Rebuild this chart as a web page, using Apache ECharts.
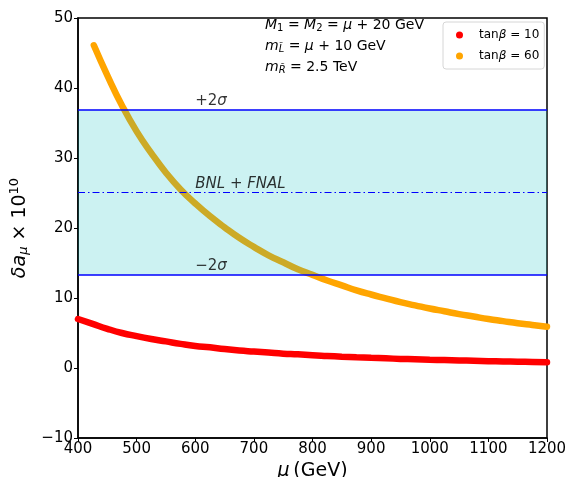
<!DOCTYPE html>
<html>
<head>
<meta charset="utf-8">
<script src="https://cdn.jsdelivr.net/npm/echarts@6/dist/echarts.min.js"></script>
<style>html,body{margin:0;padding:0;background:#fff}#c{width:566px;height:477px}</style>
</head>
<body>
<div id="c"></div>
<script>
// ---- data ----
const muOrange = [427, 450, 475, 500, 525, 550, 575, 600, 625, 650, 675, 700, 725, 750, 775, 800, 825, 850, 875, 900, 925, 950, 975, 1000, 1025, 1050, 1075, 1100, 1125, 1150, 1175, 1200];
const valOrange = [46.1, 41.8, 37.5, 33.8, 30.7, 27.9, 25.5, 23.5, 21.7, 20.1, 18.6, 17.3, 16.1, 15.1, 14.1, 13.3, 12.5, 11.8, 11.1, 10.5, 9.95, 9.4, 8.95, 8.5, 8.1, 7.7, 7.35, 7.0, 6.7, 6.4, 6.15, 5.9];
const muRed = [400, 425, 450, 475, 500, 525, 550, 575, 600, 625, 650, 675, 700, 725, 750, 775, 800, 825, 850, 875, 900, 925, 950, 975, 1000, 1025, 1050, 1075, 1100, 1125, 1150, 1175, 1200];
const valRed = [7.0, 6.3, 5.6, 5.0, 4.55, 4.15, 3.8, 3.45, 3.15, 2.95, 2.7, 2.5, 2.35, 2.2, 2.05, 1.95, 1.82, 1.72, 1.62, 1.53, 1.45, 1.38, 1.3, 1.24, 1.18, 1.13, 1.08, 1.03, 0.98, 0.94, 0.9, 0.86, 0.83];
const seriesNames = ['tanβ = 10', 'tanβ = 60'];
const bandCenter = 25.1;
const bandLow = 13.3;
const bandHigh = 36.9;
const bandLabelX = 600;
const bandLabels = ['+2σ', 'BNL + FNAL', '−2σ'];
const bandLabelY = [bandHigh, bandCenter, bandLow];
const xRange = [400, 1200];
const yRange = [-10, 50];

const FONT = 'DejaVu Sans';
const zip = (a, b) => a.map((v, i) => [v, b[i]]);

const chart = echarts.init(document.getElementById('c'), null, {renderer: 'canvas'});
chart.setOption({
  animation: false,
  textStyle: {fontFamily: FONT},
  grid: {left: 78, right: 19, top: 18, bottom: 39, show: true, borderColor: '#000', borderWidth: 1.5,
         backgroundColor: 'transparent', containLabel: false, outerBoundsMode: 'none'},
  legend: {
    left: 443, top: 22, orient: 'vertical',
    padding: [7, 5, 7, 13], itemGap: 9,
    borderColor: '#d6d6d6', borderWidth: 1, borderRadius: 3,
    itemWidth: 7, itemHeight: 7, icon: 'circle',
    data: seriesNames,
    formatter: n => '{a|tan}{b|β}{a|' + n.slice(4) + '}',
    textStyle: {
      padding: [0, 0, 0, 11],
      rich: {
        a: {fontFamily: FONT, fontSize: 12, color: '#000'},
        b: {fontFamily: FONT, fontSize: 12, fontStyle: 'italic', color: '#000'}
      }
    }
  },
  xAxis: {
    type: 'value', min: xRange[0], max: xRange[1], interval: 100,
    name: '{i|μ} {n|(GeV)}', nameLocation: 'middle', nameGap: 22,
    nameTextStyle: {rich: {
      i: {fontFamily: FONT, fontSize: 19, fontStyle: 'italic', color: '#000'},
      n: {fontFamily: FONT, fontSize: 19, color: '#000'}
    }},
    axisLine: {show: true, onZero: false, lineStyle: {color: '#000', width: 1.5}},
    axisTick: {show: true, length: 4, lineStyle: {color: '#000', width: 1}},
    axisLabel: {color: '#000', fontSize: 15, fontFamily: FONT, margin: 4, formatter: v => String(v)},
    splitLine: {show: false}
  },
  yAxis: {
    type: 'value', min: yRange[0], max: yRange[1], interval: 10,
    name: '{i|δa}{sub|μ}{n| × 10}{sup|10}', nameLocation: 'middle', nameGap: 41, nameRotate: 90,
    nameTextStyle: {rich: {
      i: {fontFamily: FONT, fontSize: 19, fontStyle: 'italic', color: '#000'},
      sub: {fontFamily: FONT, fontSize: 13, fontStyle: 'italic', color: '#000', padding: [8, 0, 0, 0]},
      n: {fontFamily: FONT, fontSize: 19, color: '#000'},
      sup: {fontFamily: FONT, fontSize: 13, color: '#000', padding: [0, 0, 10, 0]}
    }},
    axisLine: {show: true, onZero: false, lineStyle: {color: '#000', width: 1.5}},
    axisTick: {show: true, length: 4, lineStyle: {color: '#000', width: 1}},
    axisLabel: {color: '#000', fontSize: 15, fontFamily: FONT, margin: 5, formatter: v => v < 0 ? '−' + Math.abs(v) : String(v)},
    splitLine: {show: false}
  },
  series: [
    {
      name: seriesNames[0], type: 'line', data: zip(muRed, valRed), smooth: true,
      showSymbol: false, symbol: 'circle', z: 2, color: '#ff0000',
      lineStyle: {color: '#ff0000', width: 6.5, cap: 'round'}
    },
    {
      name: seriesNames[1], type: 'line', data: zip(muOrange, valOrange), smooth: true,
      showSymbol: false, symbol: 'circle', z: 2, color: '#ffa500',
      lineStyle: {color: '#ffa500', width: 6.5, cap: 'round'}
    },
    {
      name: 'band', type: 'line', data: [], z: 5, silent: true,
      markArea: {
        silent: true, z: 4,
        itemStyle: {color: 'rgba(0,191,191,0.2)'},
        data: [[{yAxis: bandLow}, {yAxis: bandHigh}]]
      },
      markLine: {
        silent: true, symbol: 'none', label: {show: false}, z: 5,
        data: [
          {yAxis: bandHigh, lineStyle: {color: '#0000ff', width: 1.6, type: 'solid'}},
          {yAxis: bandLow, lineStyle: {color: '#0000ff', width: 1.6, type: 'solid'}},
          {yAxis: bandCenter, lineStyle: {color: '#0000ff', width: 1, type: [7, 3, 1.5, 3]}}
        ]
      }
    },
    {
      name: 'bandLabels', type: 'scatter', symbolSize: 0, z: 6, silent: true,
      data: bandLabels.map((t, i) => ({value: [bandLabelX, bandLabelY[i]], name: t})),
      label: {
        show: true, position: 'right', distance: 0, verticalAlign: 'bottom', offset: [0, -1],
        formatter: p => p.dataIndex === 1 ? '{it|' + p.name + '}' : '{n|' + p.name.charAt(0) + '2}{it|σ}',
        rich: {
          it: {fontFamily: FONT, fontSize: 15, fontStyle: 'italic', color: '#000'},
          n: {fontFamily: FONT, fontSize: 15, color: '#000'}
        }
      }
    }
  ],
  graphic: [
    {type: 'text', left: 265, top: 18, style: {
      text: '{i|M}{sub|1}{n| = }{i|M}{sub|2}{n| = }{i|μ}{n| + 20 GeV}',
      rich: {
        i: {fontFamily: FONT, fontSize: 14, fontStyle: 'italic', fill: '#000'},
        n: {fontFamily: FONT, fontSize: 14, fill: '#000'},
        sub: {fontFamily: FONT, fontSize: 10, fill: '#000', padding: [6, 0, 0, 0]}
      }}},
    {type: 'text', left: 265, top: 39, style: {
      text: '{i|m}{sub|L̃}{n| = }{i|μ}{n| + 10 GeV}',
      rich: {
        i: {fontFamily: FONT, fontSize: 14, fontStyle: 'italic', fill: '#000'},
        n: {fontFamily: FONT, fontSize: 14, fill: '#000'},
        sub: {fontFamily: FONT, fontSize: 10, fontStyle: 'italic', fill: '#000', padding: [6, 0, 0, 0]}
      }}},
    {type: 'text', left: 265, top: 60, style: {
      text: '{i|m}{sub|R̃}{n| = 2.5 TeV}',
      rich: {
        i: {fontFamily: FONT, fontSize: 14, fontStyle: 'italic', fill: '#000'},
        n: {fontFamily: FONT, fontSize: 14, fill: '#000'},
        sub: {fontFamily: FONT, fontSize: 10, fontStyle: 'italic', fill: '#000', padding: [6, 0, 0, 0]}
      }}}
  ]
});
</script>
</body>
</html>
